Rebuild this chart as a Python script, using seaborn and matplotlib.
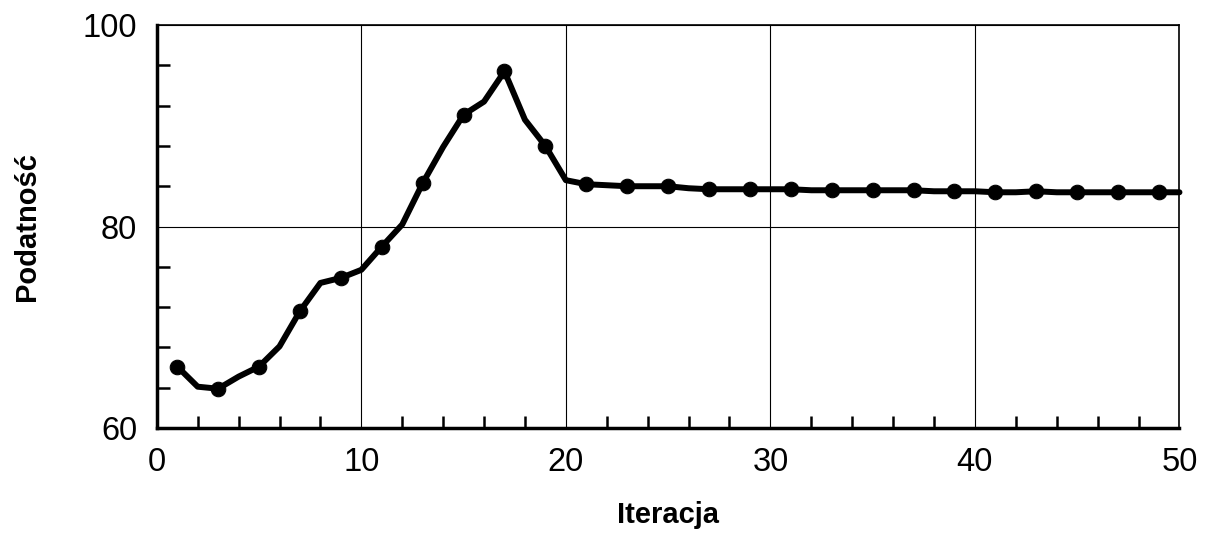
import numpy as np
import pandas as pd
import matplotlib
matplotlib.use("Agg")
import matplotlib.pyplot as plt
import seaborn as sns
from matplotlib.ticker import MultipleLocator

# values
iteracja = list(range(1, 51))
podatnosc = [66.1, 64.1, 63.9, 65.1, 66.1, 68.1, 71.6, 74.4, 74.9, 75.7,
             78.0, 80.2, 84.3, 87.9, 91.1, 92.4, 95.4, 90.6, 88.0, 84.6,
             84.2, 84.1, 84.0, 84.0, 84.0, 83.8, 83.7, 83.7, 83.7, 83.7,
             83.7, 83.6, 83.6, 83.6, 83.6, 83.6, 83.6, 83.5, 83.5, 83.5,
             83.4, 83.4, 83.5, 83.4, 83.4, 83.4, 83.4, 83.4, 83.4, 83.4]
x_ticks = [0, 10, 20, 30, 40, 50]
y_ticks = [60, 80, 100]

data = pd.DataFrame({"Iteracja": iteracja, "Podatność": podatnosc})

sns.set_style("white")
plt.rcParams['font.family'] = ['Liberation Sans', 'DejaVu Sans']
plt.rcParams['text.color'] = 'black'
plt.rcParams['axes.labelcolor'] = 'black'
plt.rcParams['xtick.color'] = 'black'
plt.rcParams['ytick.color'] = 'black'

fig = plt.figure(figsize=(12.06, 5.33), dpi=100)
ax = fig.add_axes([0.130, 0.197, 0.848, 0.756])

sns.lineplot(data=data, x="Iteracja", y="Podatność", ax=ax, color="black",
             linewidth=4.3, marker="o", markersize=10.5, markevery=slice(0, None, 2),
             markeredgecolor="black", zorder=3, clip_on=False)

ax.set_xlim(0, 50)
ax.set_ylim(60, 100)
ax.set_xticks(x_ticks)
ax.set_yticks(y_ticks)
ax.xaxis.set_minor_locator(MultipleLocator(2))
ax.yaxis.set_minor_locator(MultipleLocator(4))
ax.grid(True, which="major", color="black", linewidth=0.8)
ax.tick_params(bottom=True, left=True, which="both")
ax.tick_params(which="major", length=0, labelsize=23.5, pad=14)
ax.tick_params(which="minor", direction="in", length=9, width=1.8, color="black")

for s in ax.spines.values():
    s.set_color("black")
    s.set_linewidth(1.2)
ax.spines["left"].set_linewidth(2.5)
ax.spines["bottom"].set_linewidth(2.5)

ax.set_xlabel("Iteracja", fontsize=21, fontweight="bold", labelpad=16)
ax.set_ylabel("Podatność", fontsize=21, fontweight="bold", labelpad=30)

fig.savefig("out.png", dpi=100)
